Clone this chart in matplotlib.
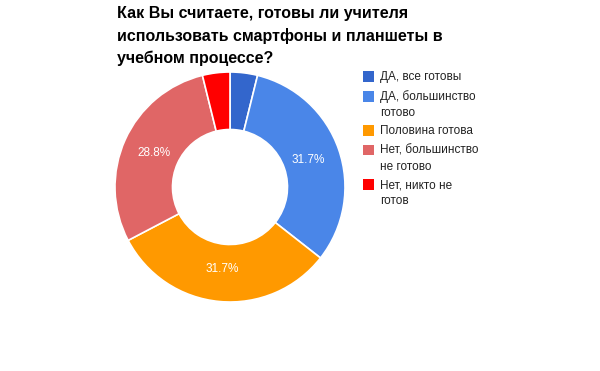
import matplotlib.pyplot as plt
import matplotlib.patches as mpatches

plt.rcParams['font.family'] = ['Liberation Sans', 'DejaVu Sans']

# Data
labels = ["ДА, все готовы", "ДА, большинство\nготово", "Половина готова",
          "Нет, большинство\nне готово", "Нет, никто не\nготов"]
values = [3.85, 31.7, 31.7, 28.8, 3.85]
colors = ["#3366CC", "#4A86E8", "#FF9900", "#E06666", "#FF0000"]
title = "Как Вы считаете, готовы ли учителя\nиспользовать смартфоны и планшеты в\nучебном процессе?"

fig = plt.figure(figsize=(6, 3.71), dpi=100)

# Donut: center (230, 187) px, outer radius ~115 px
cx, cy, r = 230 / 600, 1 - 187 / 371, 115
ax = fig.add_axes([cx - r / 600, cy - r / 371, 2 * r / 600, 2 * r / 371])
ax.pie(values, colors=colors, startangle=90, counterclock=False,
       wedgeprops=dict(width=0.5, edgecolor='white', linewidth=1.2),
       autopct=lambda p: f"{p:.1f}%" if p > 5 else "",
       pctdistance=0.72, textprops=dict(color='white', fontsize=8.5))
ax.set_xlim(-1, 1)
ax.set_ylim(-1, 1)
ax.set_aspect('equal')
ax.axis('off')

fig.text(117 / 600, 1 - 6 / 371, title, fontsize=11.5, fontweight='bold',
         va='top', ha='left', linespacing=1.55)

# Legend drawn by hand
y = 77
for lab, col in zip(labels, colors):
    fig.patches.append(mpatches.Rectangle((363 / 600, 1 - (y + 5) / 371), 11 / 600, 11 / 371,
                                          facecolor=col, transform=fig.transFigure))
    fig.text(380 / 600, 1 - (y - 6) / 371, lab, fontsize=8.5, color='#222222',
             va='top', ha='left', linespacing=1.45)
    y += 19.5 + 15 * lab.count("\n")

fig.savefig("out.png", dpi=100)
